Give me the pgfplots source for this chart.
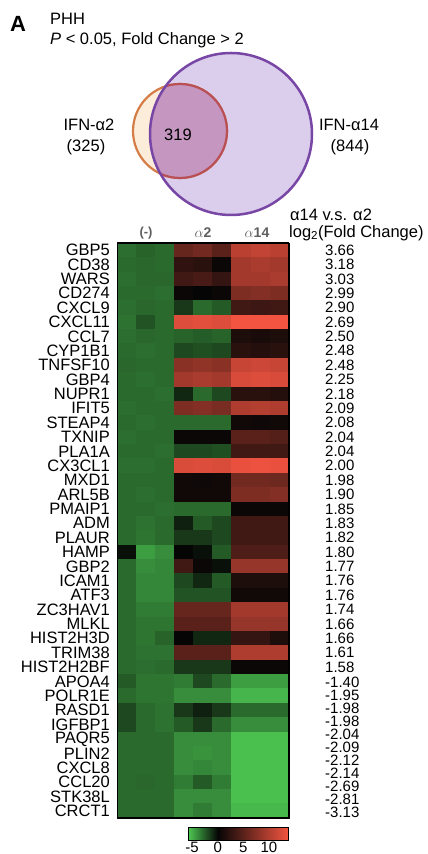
\documentclass[border=0pt]{standalone}
\usepackage{pgfplots}
\pgfplotsset{compat=1.18}
\usepackage{fontspec}
\setmainfont{Liberation Sans}
\definecolor{peach}{RGB}{252,236,218}
\definecolor{orstroke}{RGB}{212,125,70}
\definecolor{orin}{RGB}{185,80,85}
\definecolor{lav}{RGB}{218,206,236}
\definecolor{purp}{RGB}{120,70,165}
\definecolor{mauve}{RGB}{196,150,192}
\definecolor{hdr}{RGB}{95,95,95}
\newcommand\gf{\fontsize{16.5}{16.5}\selectfont}
\newcommand\vf{\fontsize{15}{15}\selectfont}
\newcommand\tf{\fontsize{16.5}{16.5}\selectfont}
\begin{document}
\begin{tikzpicture}[x=1pt,y=1pt]
\useasboundingbox (0pt,0pt) rectangle (428pt,854pt);
% ---------------- Venn diagram and titles ----------------
\begin{axis}[at={(0pt,854pt)}, anchor=north west, scale only axis, width=428pt, height=230pt,
  xmin=0, xmax=428, ymin=0, ymax=230, y dir=reverse, hide axis, clip=false]
\fill[peach] (axis cs:180,131) circle[radius=47];
\fill[lav] (axis cs:231,134) circle[radius=81];
\draw[orstroke, line width=2.2pt] (axis cs:180,131) circle[radius=47];
\begin{scope}
\clip (axis cs:231,134) circle[radius=81];
\fill[mauve] (axis cs:180,131) circle[radius=47];
\draw[orin, line width=2.2pt] (axis cs:180,131) circle[radius=47];
\end{scope}
\draw[purp, line width=2.5pt] (axis cs:231,134) circle[radius=81];
\node[font=\fontsize{22}{22}\selectfont\bfseries] at (axis cs:18,24) {A};
\node[anchor=west, font=\tf, inner sep=0pt] at (axis cs:50,19) {PHH};
\node[anchor=west, font=\tf, inner sep=0pt] at (axis cs:50,40) {\textit{P} < 0.05, Fold Change > 2};
\node[font=\tf] at (axis cs:89,125) {IFN-α2};
\node[font=\tf] at (axis cs:86,147) {(325)};
\node[font=\tf] at (axis cs:178,135) {319};
\node[font=\tf] at (axis cs:349,125) {IFN-α14};
\node[font=\tf] at (axis cs:350,147) {(844)};
\end{axis}
% ---------------- Heatmap ----------------
\begin{axis}[at={(117pt,36pt)}, anchor=south west, scale only axis, width=172pt, height=575pt,
  xmin=-0.5, xmax=8.5, ymin=-0.5, ymax=39.5, y dir=reverse,
  xtick=\empty, ytick={0,...,39},
  yticklabels={GBP5,CD38,WARS,CD274,CXCL9,CXCL11,CCL7,CYP1B1,TNFSF10,GBP4,NUPR1,IFIT5,STEAP4,TXNIP,PLA1A,CX3CL1,MXD1,ARL5B,PMAIP1,ADM,PLAUR,HAMP,GBP2,ICAM1,ATF3,ZC3HAV1,MLKL,HIST2H3D,TRIM38,HIST2H2BF,APOA4,POLR1E,RASD1,IGFBP1,PAQR5,PLIN2,CXCL8,CCL20,STK38L,CRCT1},
  major tick length=0pt,
  yticklabel style={font=\gf, inner sep=0pt},
  yticklabel shift=7pt,
  colormap={gr}{rgb255(0pt)=(75,195,80); rgb255(56pt)=(5,5,5); rgb255(195pt)=(245,85,65)},
  point meta min=-5.6, point meta max=13.9,
  colorbar horizontal,
  colorbar style={at={(parent axis.south east)}, anchor=north east, yshift=-1pt,
    scale only axis, width=100pt, height=13pt,
    xtick={-5,0,5,10}, xticklabels={-5,0,5,10}, major tick length=0pt,
    xticklabel style={font=\vf, inner sep=1pt},
    axis line style={line width=1pt}},
  ]
\addplot[matrix plot*, mesh/cols=9, point meta=explicit] table[row sep=\\, meta=c] {
x y c\\
0 0 -3.1\\ 1 0 -2.8\\ 2 0 -3.0\\ 3 0 5.6\\ 4 0 6.3\\ 5 0 4.9\\ 6 0 10.5\\ 7 0 10.9\\ 8 0 10.5\\
0 1 -3.0\\ 1 1 -2.9\\ 2 1 -3.0\\ 3 1 2.5\\ 4 1 2.1\\ 5 1 0.4\\ 6 1 9.1\\ 7 1 9.5\\ 8 1 9.1\\
0 2 -3.1\\ 1 2 -2.9\\ 2 2 -2.9\\ 3 2 3.5\\ 4 2 3.9\\ 5 2 2.8\\ 6 2 9.1\\ 7 2 9.1\\ 8 2 9.5\\
0 3 -3.0\\ 1 3 -3.0\\ 2 3 -3.1\\ 3 3 0.3\\ 4 3 0.0\\ 5 3 0.4\\ 6 3 7.0\\ 7 3 7.3\\ 8 3 7.0\\
0 4 -3.1\\ 1 4 -2.9\\ 2 4 -3.0\\ 3 4 -1.5\\ 4 4 -3.0\\ 5 4 -2.5\\ 6 4 3.5\\ 7 4 3.2\\ 8 4 3.5\\
0 5 -3.2\\ 1 5 -2.3\\ 2 5 -3.0\\ 3 5 12.5\\ 4 5 12.8\\ 5 5 12.5\\ 6 5 13.8\\ 7 5 13.8\\ 8 5 13.8\\
0 6 -3.1\\ 1 6 -2.9\\ 2 6 -3.0\\ 3 6 -2.8\\ 4 6 -2.6\\ 5 6 -2.8\\ 6 6 1.4\\ 7 6 1.1\\ 8 6 1.4\\
0 7 -3.0\\ 1 7 -3.1\\ 2 7 -3.0\\ 3 7 -2.0\\ 4 7 -2.2\\ 5 7 -2.0\\ 6 7 2.1\\ 7 7 1.8\\ 8 7 2.1\\
0 8 -2.9\\ 1 8 -3.0\\ 2 8 -3.0\\ 3 8 7.7\\ 4 8 8.1\\ 5 8 7.7\\ 6 8 11.2\\ 7 8 11.5\\ 8 8 11.2\\
0 9 -3.0\\ 1 9 -3.1\\ 2 9 -3.0\\ 3 9 9.1\\ 4 9 9.5\\ 5 9 9.1\\ 6 9 12.2\\ 7 9 12.5\\ 8 9 12.2\\
0 10 -3.0\\ 1 10 -3.0\\ 2 10 -3.1\\ 3 10 -1.0\\ 4 10 -3.0\\ 5 10 -2.0\\ 6 10 2.1\\ 7 10 2.1\\ 8 10 1.8\\
0 11 -3.1\\ 1 11 -3.0\\ 2 11 -3.0\\ 3 11 7.0\\ 4 11 7.3\\ 5 11 6.7\\ 6 11 9.8\\ 7 11 10.1\\ 8 11 9.8\\
0 12 -3.0\\ 1 12 -3.1\\ 2 12 -3.0\\ 3 12 -3.0\\ 4 12 -3.0\\ 5 12 -3.0\\ 6 12 0.7\\ 7 12 0.6\\ 8 12 0.7\\
0 13 -3.1\\ 1 13 -3.0\\ 2 13 -3.0\\ 3 13 0.4\\ 4 13 0.4\\ 5 13 0.4\\ 6 13 4.9\\ 7 13 4.9\\ 8 13 4.6\\
0 14 -3.0\\ 1 14 -3.0\\ 2 14 -3.1\\ 3 14 -2.0\\ 4 14 -2.0\\ 5 14 -2.2\\ 6 14 3.5\\ 7 14 3.5\\ 8 14 3.5\\
0 15 -3.1\\ 1 15 -3.1\\ 2 15 -3.0\\ 3 15 12.3\\ 4 15 12.5\\ 5 15 12.3\\ 6 15 13.2\\ 7 15 13.4\\ 8 15 13.2\\
0 16 -3.0\\ 1 16 -3.0\\ 2 16 -3.0\\ 3 16 0.7\\ 4 16 0.6\\ 5 16 0.7\\ 6 16 6.3\\ 7 16 6.3\\ 8 16 6.0\\
0 17 -3.0\\ 1 17 -3.1\\ 2 17 -3.0\\ 3 17 0.7\\ 4 17 0.7\\ 5 17 0.7\\ 6 17 7.0\\ 7 17 7.0\\ 8 17 7.3\\
0 18 -3.0\\ 1 18 -3.0\\ 2 18 -3.1\\ 3 18 -3.0\\ 4 18 -3.0\\ 5 18 -3.0\\ 6 18 0.4\\ 7 18 0.4\\ 8 18 0.4\\
0 19 -3.0\\ 1 19 -3.2\\ 2 19 -3.0\\ 3 19 -0.8\\ 4 19 -2.5\\ 5 19 -2.0\\ 6 19 3.5\\ 7 19 3.5\\ 8 19 3.5\\
0 20 -3.0\\ 1 20 -3.3\\ 2 20 -3.0\\ 3 20 -1.5\\ 4 20 -1.5\\ 5 20 -2.0\\ 6 20 3.5\\ 7 20 3.5\\ 8 20 3.5\\
0 21 -0.3\\ 1 21 -4.5\\ 2 21 -4.0\\ 3 21 0.0\\ 4 21 -0.3\\ 5 21 -2.5\\ 6 21 4.2\\ 7 21 4.2\\ 8 21 4.2\\
0 22 -3.0\\ 1 22 -4.0\\ 2 22 -3.8\\ 3 22 3.5\\ 4 22 0.3\\ 5 22 -0.3\\ 6 22 8.4\\ 7 22 8.4\\ 8 22 8.4\\
0 23 -3.0\\ 1 23 -3.8\\ 2 23 -3.8\\ 3 23 -2.0\\ 4 23 -1.0\\ 5 23 -2.5\\ 6 23 1.4\\ 7 23 1.4\\ 8 23 1.4\\
0 24 -3.0\\ 1 24 -3.8\\ 2 24 -3.8\\ 3 24 -2.3\\ 4 24 -2.3\\ 5 24 -2.3\\ 6 24 0.7\\ 7 24 0.7\\ 8 24 0.7\\
0 25 -3.0\\ 1 25 -3.5\\ 2 25 -3.5\\ 3 25 5.6\\ 4 25 5.6\\ 5 25 5.6\\ 6 25 9.1\\ 7 25 9.1\\ 8 25 9.1\\
0 26 -3.0\\ 1 26 -3.3\\ 2 26 -3.3\\ 3 26 4.9\\ 4 26 4.9\\ 5 26 4.9\\ 6 26 8.4\\ 7 26 8.4\\ 8 26 8.4\\
0 27 -3.0\\ 1 27 -3.3\\ 2 27 -2.8\\ 3 27 0.0\\ 4 27 -1.0\\ 5 27 -1.0\\ 6 27 2.8\\ 7 27 2.8\\ 8 27 1.4\\
0 28 -3.0\\ 1 28 -3.2\\ 2 28 -3.2\\ 3 28 4.9\\ 4 28 4.9\\ 5 28 4.9\\ 6 28 9.8\\ 7 28 9.8\\ 8 28 9.8\\
0 29 -3.0\\ 1 29 -3.1\\ 2 29 -3.0\\ 3 29 -1.5\\ 4 29 -1.5\\ 5 29 -1.5\\ 6 29 0.4\\ 7 29 0.4\\ 8 29 0.4\\
0 30 -2.5\\ 1 30 -3.3\\ 2 30 -3.3\\ 3 30 -3.5\\ 4 30 -2.0\\ 5 30 -3.0\\ 6 30 -4.5\\ 7 30 -4.5\\ 8 30 -4.5\\
0 31 -3.0\\ 1 31 -3.3\\ 2 31 -3.3\\ 3 31 -4.0\\ 4 31 -4.0\\ 5 31 -4.0\\ 6 31 -5.2\\ 7 31 -5.2\\ 8 31 -5.2\\
0 32 -2.0\\ 1 32 -3.0\\ 2 32 -3.2\\ 3 32 -1.5\\ 4 32 -0.8\\ 5 32 -1.5\\ 6 32 -3.0\\ 7 32 -3.0\\ 8 32 -3.0\\
0 33 -2.0\\ 1 33 -3.0\\ 2 33 -3.2\\ 3 33 -2.5\\ 4 33 -1.5\\ 5 33 -3.0\\ 6 33 -4.0\\ 7 33 -4.0\\ 8 33 -4.0\\
0 34 -3.0\\ 1 34 -3.0\\ 2 34 -3.0\\ 3 34 -4.0\\ 4 34 -4.0\\ 5 34 -4.0\\ 6 34 -5.5\\ 7 34 -5.5\\ 8 34 -5.5\\
0 35 -3.0\\ 1 35 -3.0\\ 2 35 -3.0\\ 3 35 -4.0\\ 4 35 -4.2\\ 5 35 -4.0\\ 6 35 -5.5\\ 7 35 -5.5\\ 8 35 -5.5\\
0 36 -3.0\\ 1 36 -3.0\\ 2 36 -3.0\\ 3 36 -4.0\\ 4 36 -3.8\\ 5 36 -4.0\\ 6 36 -5.5\\ 7 36 -5.5\\ 8 36 -5.5\\
0 37 -3.0\\ 1 37 -2.9\\ 2 37 -3.0\\ 3 37 -3.5\\ 4 37 -2.5\\ 5 37 -3.5\\ 6 37 -5.5\\ 7 37 -5.5\\ 8 37 -5.5\\
0 38 -3.0\\ 1 38 -3.0\\ 2 38 -3.0\\ 3 38 -4.0\\ 4 38 -4.0\\ 5 38 -4.0\\ 6 38 -5.5\\ 7 38 -5.5\\ 8 38 -5.5\\
0 39 -3.0\\ 1 39 -3.0\\ 2 39 -3.0\\ 3 39 -4.0\\ 4 39 -3.5\\ 5 39 -4.0\\ 6 39 -5.3\\ 7 39 -5.3\\ 8 39 -5.3\\
};
\draw[line width=1.6pt] (rel axis cs:0,0) rectangle (rel axis cs:1,1);
\end{axis}
% ---------------- headers and fold-change column ----------------
\node[font=\fontsize{13}{13}\selectfont\bfseries, text=hdr] at (146pt,{(854-233)*1pt}) {(-)};
\node[font=\fontsize{14}{14}\selectfont, text=hdr] at (203pt,{(854-233)*1pt}) {$\alpha\mathbf{2}$};
\node[font=\fontsize{14}{14}\selectfont, text=hdr] at (257pt,{(854-233)*1pt}) {$\alpha\mathbf{14}$};
\node[anchor=west, font=\tf, inner sep=0pt] at (290pt,{(854-215)*1pt}) {α14 v.s. α2};
\node[anchor=west, font=\tf, inner sep=0pt] at (289pt,{(854-233)*1pt}) {log\textsubscript{2}(Fold Change)};
\foreach \v [count=\i from 0] in {3.66,3.18,3.03,2.99,2.90,2.69,2.50,2.48,2.48,2.25,2.18,2.09,2.08,2.04,2.04,2.00,1.98,1.90,1.85,1.83,1.82,1.80,1.77,1.76,1.76,1.74,1.66,1.66,1.61,1.58}
  \node[anchor=west, font=\vf, inner sep=0pt] at (325pt,{(854-243-14.375*(\i+0.5))*1pt}) {\v};
\foreach \v [count=\i from 0] in {-1.40,-1.95,-1.98,-1.98,-2.04,-2.09,-2.12,-2.14,-2.69,-2.81,-3.13}
  \node[anchor=west, font=\vf, inner sep=0pt] at (325pt,{(854-682-13*\i)*1pt}) {\v};
\end{tikzpicture}
\end{document}
